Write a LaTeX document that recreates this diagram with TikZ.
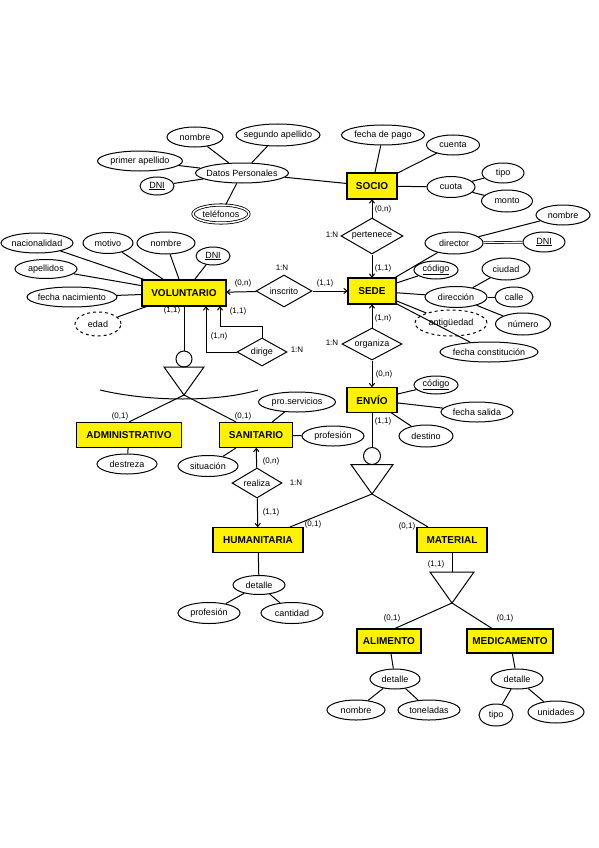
\documentclass[tikz,border=0pt]{standalone}
\usepackage{fontspec}
\setmainfont{Liberation Sans}
\usetikzlibrary{shapes.geometric,arrows.meta}

\tikzset{
  entidad/.style={draw, fill=yellow, line width=1.1pt, inner sep=0pt, minimum height=25pt, font=\fontsize{10}{11}\selectfont\bfseries},
  atrib/.style={draw, ellipse, line width=1pt, inner xsep=-10pt, inner ysep=0pt, minimum height=20pt, font=\fontsize{9}{10}\selectfont},
  derivado/.style={atrib, dashed},
  multival/.style={atrib, double, double distance=1.5pt, line width=0.8pt},
  relac/.style={draw, diamond, aspect=1.8, line width=1pt, inner sep=-6pt, font=\fontsize{9}{10}\selectfont},
  card/.style={inner sep=0pt, font=\fontsize{8}{9}\selectfont},
  flecha/.style={line width=1pt, -{To[length=4pt,width=6pt]}},
}

\begin{document}
\begin{tikzpicture}[x=1pt, y=-1pt, line width=1pt]
  \useasboundingbox (0,0) rectangle (599,848);

  \node[atrib, minimum width=56pt] (nom1) at (195,137) {nombre};
  \node[atrib, minimum width=84pt, minimum height=22pt] (ape2) at (278,135) {segundo apellido};
  \node[atrib, minimum width=85pt] (ape1) at (140,161) {primer apellido};
  \node[atrib, minimum width=93pt] (datos) at (242,173) {Datos Personales};
  \node[atrib, minimum width=34pt, minimum height=18pt] (dni1) at (157,186) {\underline{DNI}};
  \node[multival, minimum width=56pt, minimum height=18pt] (tel) at (221,214) {teléfonos};

  \node[entidad, minimum width=50pt, minimum height=26pt] (socio) at (372,186) {SOCIO};
  \node[atrib, minimum width=83pt] (fpago) at (383,135) {fecha de pago};
  \node[atrib, minimum width=53pt] (cuenta) at (453,145) {cuenta};
  \node[atrib, minimum width=48pt, minimum height=21pt] (cuota) at (451,187) {cuota};
  \node[atrib, minimum width=42pt] (tipo1) at (503,173) {tipo};
  \node[atrib, minimum width=51pt, minimum height=22pt] (monto) at (507,201) {monto};

  \node[relac, minimum width=62pt, minimum height=36pt] (pert) at (372,236) {pertenece};
  \node[entidad, minimum width=48pt, minimum height=26pt] (sede) at (372,291) {SEDE};
  \node[atrib, minimum width=58pt, minimum height=22pt] (dir) at (454,243) {director};
  \node[atrib, minimum width=54pt] (nom2) at (563,215) {nombre};
  \node[atrib, minimum width=42pt] (dni2) at (544,242) {\underline{DNI}};
  \node[atrib, minimum width=44pt, minimum height=18pt] (cod1) at (436,270) {\underline{código}};
  \node[atrib, minimum width=62pt, minimum height=21pt] (direc) at (456,297) {dirección};
  \node[atrib, minimum width=48pt, minimum height=22pt] (ciudad) at (506,269) {ciudad};
  \node[atrib, minimum width=38pt] (calle) at (514,297) {calle};
  \node[atrib, minimum width=55pt, minimum height=22pt] (num) at (523,324) {número};
  \node[derivado, minimum width=72pt, minimum height=26pt] (antig) at (451,323) {antigüedad};
  \node[atrib, minimum width=98pt] (fcons) at (489,352) {fecha constitución};

  \node[relac, minimum width=56pt, minimum height=32pt] (insc) at (284,291) {inscrito};
  \node[entidad, minimum width=84pt, minimum height=26pt] (vol) at (184,293) {VOLUNTARIO};
  \node[atrib, minimum width=72pt] (nac) at (37,243) {nacionalidad};
  \node[atrib, minimum width=50pt, minimum height=21pt] (motivo) at (108,243) {motivo};
  \node[atrib, minimum width=58pt, minimum height=22pt] (nom3) at (166,243) {nombre};
  \node[atrib, minimum width=34pt, minimum height=18pt] (dni3) at (213,256) {\underline{DNI}};
  \node[atrib, minimum width=62pt, minimum height=19pt] (apes) at (46,269) {apellidos};
  \node[atrib, minimum width=90pt] (fnac) at (72,297) {fecha nacimiento};
  \node[derivado, minimum width=46pt, minimum height=24pt] (edad) at (98,324) {edad};
  \node[relac, minimum width=50pt, minimum height=28pt] (dirige) at (262,352) {dirige};

  \node[circle, draw, minimum size=16pt, inner sep=0pt] (o1) at (184,359) {};
  \coordinate (ap1) at (184,395);
  \node[entidad, minimum width=105pt] (adm) at (129,435) {ADMINISTRATIVO};
  \node[entidad, minimum width=73pt] (san) at (256,435) {SANITARIO};
  \node[atrib, minimum width=60pt] (destr) at (127,464) {destreza};
  \node[atrib, minimum width=77pt] (prose) at (297,402) {pro.servicios};
  \node[atrib, minimum width=62pt] (prof1) at (333,436) {profesión};
  \node[atrib, minimum width=60pt, minimum height=21pt] (situ) at (208,466) {situación};
  \node[relac, minimum width=50pt, minimum height=30pt] (real) at (257,483) {realiza};

  \node[entidad, minimum width=50pt] (envio) at (372,400) {ENVÍO};
  \node[relac, minimum width=60pt, minimum height=32pt] (org) at (372,344) {organiza};
  \node[atrib, minimum width=44pt, minimum height=18pt] (cod2) at (436,385) {\underline{código}};
  \node[atrib, minimum width=72pt] (fsal) at (477,412) {fecha salida};
  \node[atrib, minimum width=54pt, minimum height=22pt] (dest) at (426,436) {destino};
  \node[circle, draw, minimum size=17pt, inner sep=0pt] (o2) at (372,456) {};
  \coordinate (ap2) at (372,494);

  \node[entidad, minimum width=90pt] (hum) at (258,540) {HUMANITARIA};
  \node[atrib, minimum width=52pt, minimum height=19pt] (det1) at (259,585) {detalle};
  \node[atrib, minimum width=62pt, minimum height=21pt] (prof2) at (209,613) {profesión};
  \node[atrib, minimum width=62pt, minimum height=21pt] (cant) at (292,613) {cantidad};

  \node[entidad, minimum width=70pt] (mat) at (452,540) {MATERIAL};
  \coordinate (ap3) at (452,603);
  \node[entidad, minimum width=64pt, minimum height=24pt] (alim) at (389,641) {ALIMENTO};
  \node[entidad, minimum width=86pt, minimum height=24pt] (med) at (510,641) {MEDICAMENTO};
  \node[atrib, minimum width=50pt] (det2) at (395,679) {detalle};
  \node[atrib, minimum width=58pt] (nom4) at (356,710) {nombre};
  \node[atrib, minimum width=62pt] (ton) at (429,710) {toneladas};
  \node[atrib, minimum width=52pt] (det3) at (517,679) {detalle};
  \node[atrib, minimum width=34pt, minimum height=22pt] (tipo2) at (496,715) {tipo};
  \node[atrib, minimum width=56pt, minimum height=22pt] (unid) at (556,712) {unidades};

  \node[card] (k1) at (383,209) {(0,n)};
  \node[card] (k2) at (332,235) {1:N};
  \node[card] (k3) at (383,268) {(1,1)};
  \node[card] (k4) at (282,268) {1:N};
  \node[card] (k5) at (243,283) {(0,n)};
  \node[card] (k6) at (325,283) {(1,1)};
  \node[card] (k7) at (172,310) {(1,1)};
  \node[card] (k8) at (238,311) {(1,1)};
  \node[card] (k9) at (219,336) {(1,n)};
  \node[card] (k10) at (297,350) {1:N};
  \node[card] (k11) at (332,343) {1:N};
  \node[card] (k12) at (383,318) {(1,n)};
  \node[card] (k13) at (384,374) {(0,n)};
  \node[card] (k14) at (383,421) {(1,1)};
  \node[card] (k15) at (120,416) {(0,1)};
  \node[card] (k16) at (243,416) {(0,1)};
  \node[card] (k17) at (271,461) {(0,n)};
  \node[card] (k18) at (296,483) {1:N};
  \node[card] (k19) at (271,512) {(1,1)};
  \node[card] (k20) at (313,524) {(0,1)};
  \node[card] (k21) at (407,526) {(0,1)};
  \node[card] (k22) at (436,564) {(1,1)};
  \node[card] (k23) at (392,618) {(0,1)};
  \node[card] (k24) at (505,618) {(0,1)};

  \draw (datos) -- (nom1);
  \draw (datos) -- (ape2);
  \draw (datos) -- (ape1);
  \draw (datos) -- (dni1);
  \draw (datos) -- (tel);
  \draw (datos) -- (socio);
  \draw (socio) -- (fpago);
  \draw (socio) -- (cuenta);
  \draw (socio) -- (cuota);
  \draw (cuota) -- (tipo1);
  \draw (cuota) -- (monto);

  \draw[flecha] (pert) -- (socio);
  \draw[flecha] (pert) -- (sede);
  \draw (sede) -- (dir);
  \draw (dir) -- (nom2);
  \draw[double, double distance=1.2pt, line width=0.7pt] (dir) -- (dni2);
  \draw (sede) -- (cod1);
  \draw (sede) -- (direc);
  \draw (direc) -- (ciudad);
  \draw (direc) -- (calle);
  \draw (direc) -- (num);
  \draw (sede) -- (antig);
  \draw (sede) -- (fcons);

  \draw[flecha] (insc) -- (vol);
  \draw[flecha] (insc) -- (sede);
  \draw (vol) -- (nac);
  \draw (vol) -- (motivo);
  \draw (vol) -- (nom3);
  \draw (vol) -- (dni3);
  \draw (vol) -- (apes);
  \draw (vol) -- (fnac);
  \draw (vol) -- (edad);
  \draw[flecha] (dirige.north) -- ++(0,-11) -| ([xshift=36pt]vol.south);
  \draw[flecha] (dirige.west) -| ([xshift=22pt]vol.south);

  \draw (vol) -- (o1);
  \draw (164,367) -- (204,367) -- (ap1) -- cycle;
  \draw (100,390) .. controls (150,402) and (218,402) .. (258,390);
  \draw (ap1) -- (adm.north);
  \draw (ap1) -- ([xshift=-20pt]san.north);
  \draw (adm) -- (destr);
  \draw (san) -- (prose);
  \draw (san) -- (prof1);
  \draw (san) -- (situ);
  \draw[flecha] (real) -- (san);
  \draw[flecha] (real) -- (hum);

  \draw[flecha] (org) -- (sede);
  \draw[flecha] (org) -- (envio);
  \draw (envio) -- (cod2);
  \draw (envio) -- (fsal);
  \draw (envio) -- (dest);
  \draw (envio) -- (o2);
  \draw (351,464.5) -- (393,464.5) -- (ap2) -- cycle;
  \draw (ap2) -- ([xshift=32pt]hum.north);
  \draw (ap2) -- ([xshift=-24pt]mat.north);
  \draw (hum) -- (det1);
  \draw (det1) -- (prof2);
  \draw (det1) -- (cant);

  \draw (mat) -- (452,572);
  \draw (430,572) -- (474,572) -- (ap3) -- cycle;
  \draw (ap3) -- ([xshift=6pt]alim.north);
  \draw (ap3) -- ([xshift=-18pt]med.north);
  \draw (alim) -- (det2);
  \draw (det2) -- (nom4);
  \draw (det2) -- (ton);
  \draw (med) -- (det3);
  \draw (det3) -- (tipo2);
  \draw (det3) -- (unid);
\end{tikzpicture}
\end{document}
